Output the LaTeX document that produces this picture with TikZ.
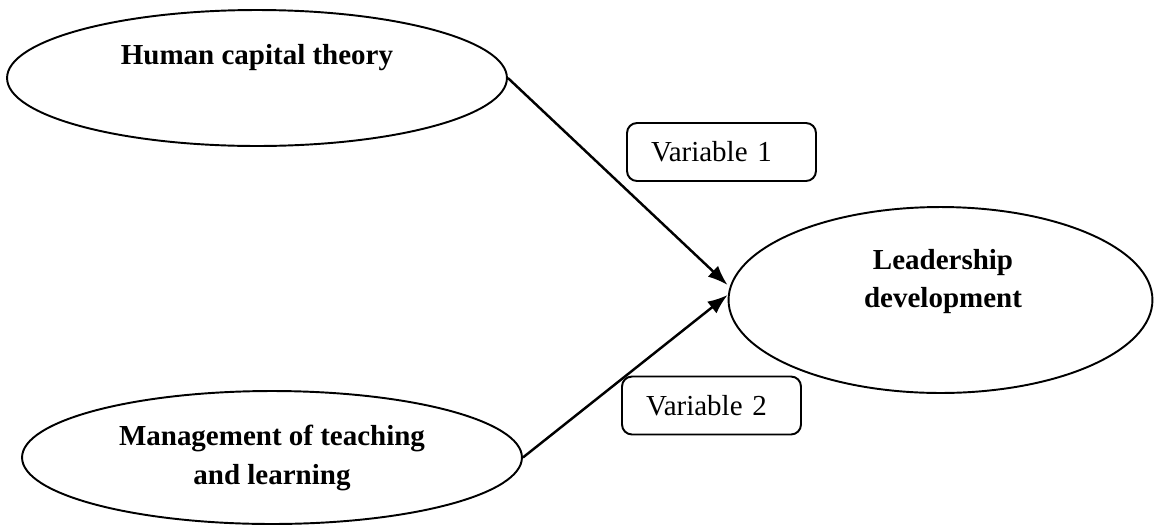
\documentclass[tikz,border=0pt]{standalone}
\usepackage{fontspec}
\setmainfont{Liberation Serif}
\usetikzlibrary{shapes.geometric,arrows.meta}

\begin{document}
\begin{tikzpicture}[x=0.02cm,y=-0.02cm,
    oval/.style={draw,ellipse,line width=1.1pt,inner sep=0pt},
    heading/.style={font=\fontsize{16.5}{21.9}\selectfont\bfseries,align=center,inner sep=0pt},
    varbox/.style={draw,rounded corners=0.2cm,line width=1.1pt,inner xsep=0.48cm,inner ysep=0pt,
        minimum height=1.16cm,align=left,font=\fontsize{16.5}{20}\selectfont},
    link/.style={-{Latex[length=0.4cm,width=0.3cm]},line width=1.4pt}]
\useasboundingbox (0,0) rectangle (1154,525);
% the three ovals
\node[oval,minimum width=10cm,minimum height=2.72cm] (hct) at (257,78) {};
\node[oval,minimum width=10cm,minimum height=2.66cm] (mtl) at (272,457.5) {};
\node[oval,minimum width=8.48cm,minimum height=3.72cm] (ld) at (940.5,300) {};
\node[heading] (hcttext) at (257,58) {Human capital theory};
\node[heading] (mtltext) at (272,458) {Management of teaching\\and learning};
\node[heading] (ldtext) at (943,281.5) {Leadership\\development};
% the two variables
\node[varbox,text width=2.82cm] (var1) at (721.5,152) {Variable 1};
\node[varbox,text width=2.62cm] (var2) at (711.5,405.5) {Variable 2};
\draw[link] (hct.east) -- ([yshift=0.3cm]ld.west);
\draw[link] (mtl.east) -- ([yshift=0.1cm]ld.west);
\end{tikzpicture}
\end{document}
